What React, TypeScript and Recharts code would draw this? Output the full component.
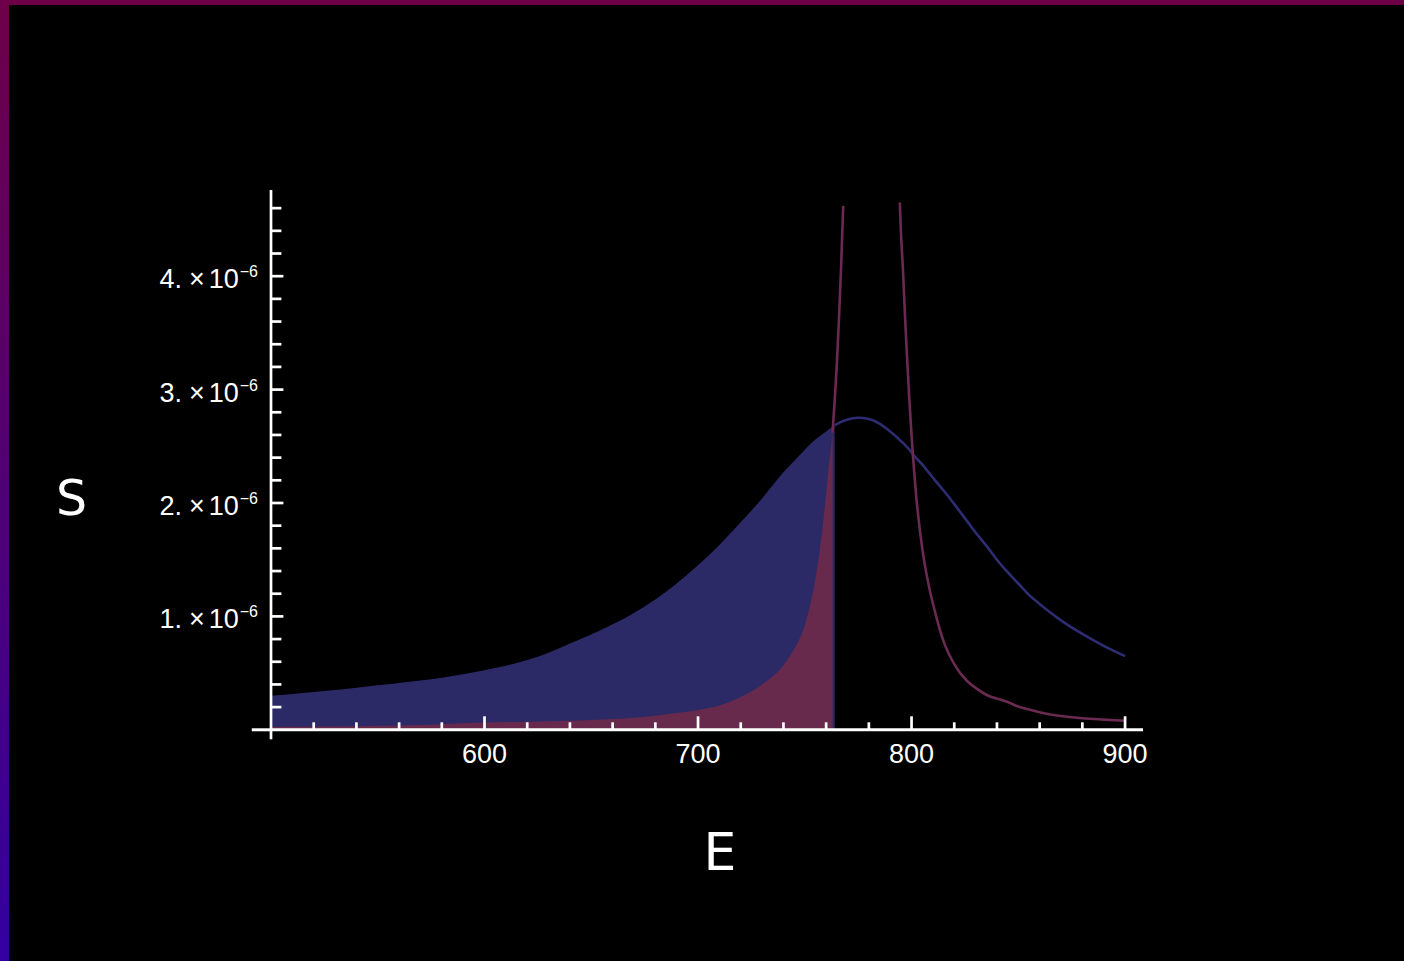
import { Area, ComposedChart, Line, ReferenceLine, XAxis, YAxis } from "recharts";

// energy grid (E) and the two spectra S(E), in units of 1e-6
const energy = [
  500, 510, 520, 530, 540, 550, 560, 570, 580, 590, 600, 610, 620, 630, 640, 650,
  660, 670, 680, 690, 700, 710, 720, 730, 740, 745, 748, 750, 752, 754, 756, 758,
  760, 761, 762, 763, 764, 765, 766, 767, 768, 770, 775, 780, 785, 790, 794.5, 795,
  796, 797, 798, 799, 800, 802, 805, 808, 811, 815, 820, 826, 830, 836, 840, 845,
  850, 855, 860, 865, 870, 880, 890, 900,
];

const broadPeak = [
  0.3, 0.315, 0.333, 0.35, 0.37, 0.392, 0.413, 0.435, 0.46, 0.49, 0.525, 0.565, 0.615, 0.68, 0.76, 0.84,
  0.93, 1.03, 1.15, 1.29, 1.45, 1.63, 1.83, 2.04, 2.27, 2.37, 2.43, 2.47, 2.51, 2.545, 2.575, 2.605,
  2.63, 2.645, 2.66, 2.672, 2.684, 2.695, 2.705, 2.715, 2.723, 2.737, 2.752, 2.74, 2.7, 2.63, 2.555, 2.545,
  2.53, 2.51, 2.49, 2.47, 2.445, 2.4, 2.34, 2.27, 2.2, 2.11, 1.99, 1.84, 1.74, 1.6, 1.5, 1.39,
  1.29, 1.19, 1.11, 1.035, 0.965, 0.845, 0.74, 0.65,
];

const narrowPeak = [
  0.025, 0.026, 0.028, 0.03, 0.032, 0.035, 0.038, 0.043, 0.05, 0.058, 0.065, 0.069, 0.072, 0.076, 0.08, 0.087,
  0.095, 0.106, 0.125, 0.148, 0.175, 0.215, 0.29, 0.4, 0.57, 0.71, 0.82, 0.92, 1.06, 1.23, 1.45, 1.73,
  2.08, 2.28, 2.45, 2.62, 2.9, 3.22, 3.62, 4.08, 4.62, null, null, null, null, null, 4.65, 4.4,
  4.05, 3.62, 3.25, 2.9, 2.6, 2.1, 1.6, 1.28, 1.04, 0.78, 0.58, 0.43, 0.37, 0.3, 0.275, 0.245,
  0.205, 0.178, 0.155, 0.135, 0.122, 0.102, 0.09, 0.08,
];

const xTicks = [520, 540, 560, 580, 600, 620, 640, 660, 680, 700, 720, 740, 760, 780, 800, 820, 840, 860, 880, 900];
const yTicks = [0.2, 0.4, 0.6, 0.8, 1, 1.2, 1.4, 1.6, 1.8, 2, 2.2, 2.4, 2.6, 2.8, 3, 3.2, 3.4, 3.6, 3.8, 4, 4.2, 4.4, 4.6];
const xLabels = [600, 700, 800, 900];
const yLabels = [1, 2, 3, 4];

const SCALE = 1e-6;
const BLUE_CUT = 764; // filling stops here
const RED_CUT = 763;

const data = energy.map((e, i) => {
  const b = broadPeak[i] * SCALE;
  const r = narrowPeak[i] == null ? null : (narrowPeak[i] as number) * SCALE;
  return {
    e,
    blueFill: e <= BLUE_CUT ? b : null,
    blueLine: e >= BLUE_CUT ? b : null,
    redFill: e <= RED_CUT ? r : null,
    redLine: e >= RED_CUT ? r : null,
  };
});

const FONT = "'Liberation Sans', Arial, sans-serif";

function XTick(props: any) {
  const { x, y, payload } = props;
  const v = payload.value;
  const major = xLabels.includes(v);
  return (
    <g>
      <line x1={x} x2={x} y1={y} y2={y - (major ? 13.5 : 7.5)} stroke="#fff" strokeWidth={2.7} />
      {major && (
        <text x={x} y={y + 33} textAnchor="middle" fill="#fff" fontSize={27} fontFamily={FONT}>
          {v}
        </text>
      )}
    </g>
  );
}

function YTick(props: any) {
  const { x, y, payload } = props;
  const n = Math.round((payload.value / SCALE) * 10) / 10;
  const major = yLabels.includes(n);
  return (
    <g>
      <line x1={x} x2={x + (major ? 12.4 : 10.4)} y1={y} y2={y} stroke="#fff" strokeWidth={2.7} />
      {major && (
        <text x={x - 13} y={y + 12} textAnchor="end" fill="#fff" fontSize={27} fontFamily={FONT}>
          <tspan>{n}.</tspan>
          <tspan dx={7}>×</tspan>
          <tspan dx={4}>10</tspan>
          <tspan dx={1} dy={-11} fontSize={16}>
            −6
          </tspan>
        </text>
      )}
    </g>
  );
}

export default function App() {
  return (
    <div style={{ position: "fixed", left: 0, top: 0, width: 1404, height: 961, background: "#000" }}>
      <ComposedChart
        width={1404}
        height={961}
        data={data}
        margin={{ top: 190, right: 261, bottom: 191.2, left: 211 }}
      >
        <Area
          type="monotone"
          dataKey="blueFill"
          stroke="none"
          fill="#2c2a66"
          fillOpacity={1}
          dot={false}
          activeDot={false}
          isAnimationActive={false}
        />
        <Area
          type="monotone"
          dataKey="redFill"
          stroke="none"
          fill="#672a4c"
          fillOpacity={1}
          dot={false}
          activeDot={false}
          isAnimationActive={false}
        />
        <Line
          type="monotone"
          dataKey="blueLine"
          stroke="#2e2c72"
          strokeWidth={2.6}
          dot={false}
          activeDot={false}
          isAnimationActive={false}
        />
        <Line
          type="monotone"
          dataKey="redLine"
          stroke="#6b2a52"
          strokeWidth={2.6}
          dot={false}
          activeDot={false}
          isAnimationActive={false}
        />
        <XAxis
          dataKey="e"
          type="number"
          domain={[500, 908.4]}
          allowDataOverflow
          ticks={xTicks}
          interval={0}
          height={40}
          tickSize={0}
          tickMargin={0}
          tickLine={false}
          axisLine={{ stroke: "#fff", strokeWidth: 3 }}
          tick={<XTick />}
        />
        <YAxis
          type="number"
          domain={[0, 4.76e-6]}
          allowDataOverflow
          ticks={yTicks.map((t) => t * SCALE)}
          interval={0}
          width={60}
          tickSize={0}
          tickMargin={0}
          tickLine={false}
          axisLine={{ stroke: "#fff", strokeWidth: 2.7 }}
          tick={<YTick />}
        />
        {/* axis stubs past the origin */}
        <ReferenceLine
          segment={[{ x: 491, y: 0 }, { x: 500, y: 0 }]}
          stroke="#fff"
          strokeWidth={3}
          ifOverflow="visible"
        />
        <ReferenceLine
          segment={[{ x: 500, y: -0.084e-6 }, { x: 500, y: 0 }]}
          stroke="#fff"
          strokeWidth={2.7}
          ifOverflow="visible"
        />
      </ComposedChart>
      <svg
        width={1404}
        height={961}
        style={{ position: "absolute", left: 0, top: 0, pointerEvents: "none" }}
      >
        <text x={71.5} y={514.5} textAnchor="middle" fill="#fff" fontSize={49} fontFamily="'DejaVu Sans', sans-serif">
          S
        </text>
        <text x={720} y={870} textAnchor="middle" fill="#fff" fontSize={52} fontFamily="'DejaVu Sans', sans-serif">
          E
        </text>
      </svg>
      <div style={{ position: "absolute", left: 0, top: 0, width: 1404, height: 5, background: "#6e0048" }} />
      <div
        style={{
          position: "absolute",
          left: 0,
          top: 0,
          width: 9,
          height: 961,
          background: "linear-gradient(#6e0048, #3300a0)",
        }}
      />
    </div>
  );
}
